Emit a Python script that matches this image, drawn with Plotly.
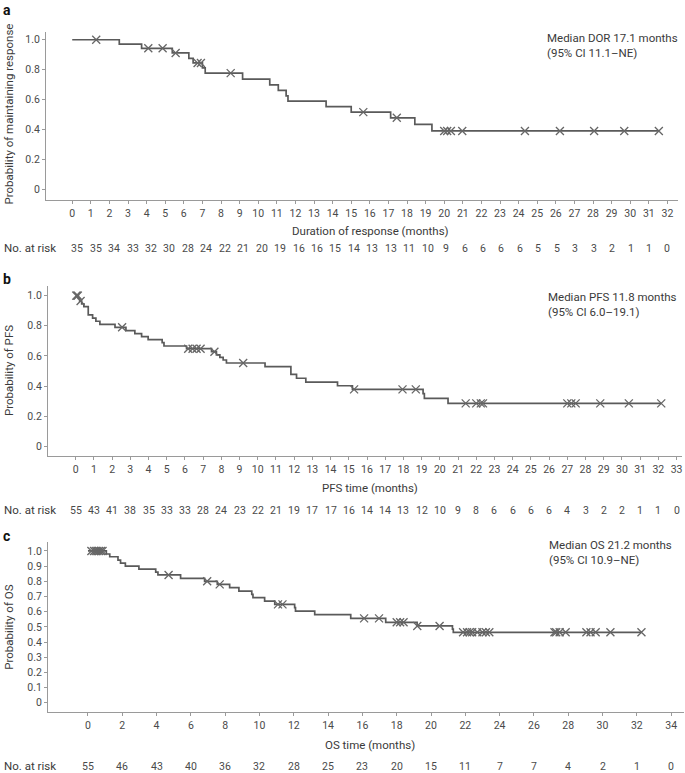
import plotly.graph_objects as go

W, H = 685, 773

# ---------------- data ----------------
# Panel a: duration of response
a_event_t = [2.53, 3.73, 5.38, 6.27, 6.5, 7.0, 7.15, 9.16, 10.62, 11.08, 11.5, 11.6, 13.65, 15.0, 17.12, 18.42, 19.34]
a_event_s = [0.971, 0.943, 0.912, 0.876, 0.845, 0.812, 0.777, 0.737, 0.698, 0.662, 0.625, 0.59, 0.553, 0.516, 0.478, 0.434, 0.39]
a_censor_t = [1.29, 4.09, 4.86, 5.56, 6.74, 6.92, 8.52, 15.65, 17.45, 20.0, 20.16, 20.36, 20.97, 24.34, 26.22, 28.06, 29.68, 31.54]
a_risk_t = list(range(0, 33))
a_risk_n = [35, 35, 34, 33, 32, 30, 28, 24, 22, 21, 20, 19, 16, 16, 15, 14, 13, 13, 11, 10, 9, 6, 6, 6, 6, 5, 5, 3, 3, 2, 1, 1, 0]
a_yticks = [0, 0.2, 0.4, 0.6, 0.8, 1.0]
a_yticklabels = ["0", "0.2", "0.4", "0.6", "0.8", "1.0"]

# Panel b: PFS
b_event_t = [0.15, 0.22, 0.33, 0.45, 0.69, 0.93, 1.11, 1.33, 2.16, 2.76, 3.25, 3.62, 3.98, 4.75, 4.85, 6.09, 7.46, 7.73, 7.92, 8.1, 8.28, 10.4, 11.82, 12.13, 12.64, 14.38, 15.2, 19.08, 19.15, 20.45]
b_event_s = [0.982, 0.964, 0.945, 0.927, 0.872, 0.851, 0.83, 0.81, 0.79, 0.768, 0.748, 0.728, 0.708, 0.688, 0.666, 0.648, 0.628, 0.607, 0.59, 0.573, 0.553, 0.529, 0.478, 0.452, 0.426, 0.402, 0.378, 0.35, 0.319, 0.285]
b_censor_t = [0.03, 0.08, 0.12, 0.27, 2.55, 6.18, 6.42, 6.64, 6.86, 7.62, 9.2, 15.29, 17.95, 18.68, 21.42, 22.0, 22.25, 22.37, 27.0, 27.22, 27.46, 28.81, 30.38, 32.16]
b_risk_t = list(range(0, 34))
b_risk_n = [55, 43, 41, 38, 35, 33, 33, 28, 24, 23, 22, 21, 19, 17, 17, 16, 14, 14, 13, 12, 10, 9, 8, 6, 6, 6, 6, 4, 3, 2, 2, 1, 1, 0]
b_yticks = [0, 0.2, 0.4, 0.6, 0.8, 1.0]
b_yticklabels = ["0", "0.2", "0.4", "0.6", "0.8", "1.0"]

# Panel c: OS
c_event_t = [1.07, 1.27, 1.75, 1.9, 2.18, 2.97, 3.95, 4.08, 5.4, 6.8, 7.54, 8.26, 8.8, 9.55, 9.62, 10.3, 10.89, 12.05, 12.1, 13.22, 15.32, 17.36, 19.19, 21.25, 21.3]
c_event_s = [0.98, 0.962, 0.94, 0.92, 0.9, 0.88, 0.86, 0.842, 0.82, 0.8, 0.78, 0.758, 0.736, 0.714, 0.692, 0.67, 0.648, 0.626, 0.604, 0.58, 0.556, 0.53, 0.506, 0.485, 0.464]
c_censor_t = [0.2, 0.35, 0.45, 0.55, 0.65, 0.75, 0.85, 4.7, 6.95, 7.68, 11.08, 11.34, 16.1, 16.97, 18.0, 18.2, 18.4, 19.2, 20.5, 21.87, 22.1, 22.25, 22.4, 22.7, 23.0, 23.2, 23.4, 27.2, 27.3, 27.5, 27.85, 29.06, 29.3, 29.6, 30.46, 32.27]
c_risk_t = list(range(0, 35, 2))
c_risk_n = [55, 46, 43, 40, 36, 32, 28, 25, 23, 20, 15, 11, 7, 7, 4, 2, 1, 0]
c_yticks = [0, 0.1, 0.2, 0.3, 0.4, 0.5, 0.6, 0.7, 0.8, 0.9, 1.0]
c_yticklabels = ["0", "0.1", "0.2", "0.3", "0.4", "0.5", "0.6", "0.7", "0.8", "0.9", "1.0"]

panels = [
    dict(label="a", ev_t=a_event_t, ev_s=a_event_s, cen=a_censor_t, risk_t=a_risk_t, risk_n=a_risk_n,
         yticks=a_yticks, yticklabels=a_yticklabels, xticks=list(range(0, 33)),
         ytitle="Probability of maintaining response", xtitle="Duration of response (months)",
         note="Median DOR 17.1 months<br>(95% CI 11.1–NE)"),
    dict(label="b", ev_t=b_event_t, ev_s=b_event_s, cen=b_censor_t, risk_t=b_risk_t, risk_n=b_risk_n,
         yticks=b_yticks, yticklabels=b_yticklabels, xticks=list(range(0, 34)),
         ytitle="Probability of PFS", xtitle="PFS time (months)",
         note="Median PFS 11.8 months<br>(95% CI 6.0–19.1)"),
    dict(label="c", ev_t=c_event_t, ev_s=c_event_s, cen=c_censor_t, risk_t=c_risk_t, risk_n=c_risk_n,
         yticks=c_yticks, yticklabels=c_yticklabels, xticks=list(range(0, 35, 2)),
         ytitle="Probability of OS", xtitle="OS time (months)",
         note="Median OS 21.2 months<br>(95% CI 10.9–NE)"),
]

# ---------------- layout geometry (pixels) ----------------
geo = [
    dict(x0=46, x1=678, ytop=31.7, ybot=200, xr=[-1.41, 32.57], yr=[-0.072, 1.054],
         lab_y=10, xt_y=231, risk_y=248, note_x=545, note_y=29, risk_shift=5),
    dict(x0=48, x1=682, ytop=286, ybot=456, xr=[-1.52, 33.3], yr=[-0.064, 1.064],
         lab_y=279, xt_y=488, risk_y=510, note_x=546, note_y=288, risk_shift=0),
    dict(x0=48, x1=684, ytop=541.7, ybot=712.3, xr=[-2.33, 34.75], yr=[-0.063, 1.061],
         lab_y=536, xt_y=745, risk_y=766, note_x=547, note_y=536, risk_shift=0),
]

def fx(p):
    return p / W

def fy(p):
    return 1 - p / H

FONT = "Roboto, Liberation Sans, Arial, sans-serif"
TXT = "#3a3a3a"
AX = "#9a9a9a"
LINE = "#5a5a5a"

fig = go.Figure()
annotations = []
layout = {}

def surv_at(t, ev_t, ev_s):
    s = 1.0
    for et, es in zip(ev_t, ev_s):
        if et <= t:
            s = es
    return s

for i, (p, g) in enumerate(zip(panels, geo)):
    n = "" if i == 0 else str(i + 1)
    xa, ya = "x" + n, "y" + n
    last = max(p["cen"] + p["ev_t"])
    xs = [0] + p["ev_t"] + [last]
    ys = [1.0] + p["ev_s"] + [p["ev_s"][-1]]
    fig.add_trace(go.Scatter(x=xs, y=ys, mode="lines", line=dict(shape="hv", color=LINE, width=1.7),
                             xaxis=xa, yaxis=ya, showlegend=False, hoverinfo="skip"))
    cy = [surv_at(t, p["ev_t"], p["ev_s"]) for t in p["cen"]]
    fig.add_trace(go.Scatter(x=p["cen"], y=cy, mode="markers",
                             marker=dict(symbol="x-thin", size=8, line=dict(color="#666666", width=1.3)),
                             xaxis=xa, yaxis=ya, showlegend=False, hoverinfo="skip"))
    axis_common = dict(showgrid=False, zeroline=False, showline=True, linecolor=AX, linewidth=1,
                       ticks="outside", ticklen=3, tickwidth=1, tickcolor=AX,
                       tickfont=dict(family=FONT, size=10.5, color="#4a4a4a"))
    layout["xaxis" + n] = dict(axis_common, domain=[fx(g["x0"]), fx(g["x1"])], range=g["xr"],
                               anchor=ya, tickvals=p["xticks"], ticktext=[str(v) for v in p["xticks"]])
    layout["yaxis" + n] = dict(axis_common, domain=[fy(g["ybot"]), fy(g["ytop"])], range=g["yr"],
                               anchor=xa, tickvals=p["yticks"], ticktext=p["yticklabels"])
    # panel label
    annotations.append(dict(text="<b>%s</b>" % p["label"], xref="paper", yref="paper", x=fx(1), y=fy(g["lab_y"]),
                            xanchor="left", yanchor="middle", showarrow=False,
                            font=dict(family=FONT, size=14, color="#111")))
    # y title (centred on the 0..1 span)
    y0px = g["ybot"] - (0 - g["yr"][0]) / (g["yr"][1] - g["yr"][0]) * (g["ybot"] - g["ytop"])
    y1px = g["ybot"] - (1 - g["yr"][0]) / (g["yr"][1] - g["yr"][0]) * (g["ybot"] - g["ytop"])
    annotations.append(dict(text=p["ytitle"], xref="paper", yref="paper", x=fx(9), y=fy((y0px + y1px) / 2),
                            xanchor="center", yanchor="middle", textangle=-90, showarrow=False,
                            font=dict(family=FONT, size=11.5, color=TXT)))
    # x title
    annotations.append(dict(text=p["xtitle"], xref="paper", yref="paper", x=fx(370), y=fy(g["xt_y"]),
                            xanchor="center", yanchor="middle", showarrow=False,
                            font=dict(family=FONT, size=11.5, color=TXT)))
    # note
    annotations.append(dict(text=p["note"], xref="paper", yref="paper", x=fx(g["note_x"]), y=fy(g["note_y"]),
                            xanchor="left", yanchor="top", align="left", showarrow=False,
                            font=dict(family=FONT, size=11.5, color=TXT)))
    # at risk
    annotations.append(dict(text="No. at risk", xref="paper", yref="paper", x=fx(2), y=fy(g["risk_y"]),
                            xanchor="left", yanchor="middle", showarrow=False,
                            font=dict(family=FONT, size=11.5, color=TXT)))
    tmax = max(p["risk_t"])
    for t, v in zip(p["risk_t"], p["risk_n"]):
        annotations.append(dict(text=str(v), xref=xa, yref="paper", x=t, y=fy(g["risk_y"]),
                                xanchor="center", yanchor="middle", showarrow=False,
                                xshift=g["risk_shift"] * (1 - t / tmax),
                                font=dict(family=FONT, size=10.5, color="#4a4a4a")))

fig.update_layout(width=W, height=H, margin=dict(l=0, r=0, t=0, b=0),
                  paper_bgcolor="white", plot_bgcolor="white", annotations=annotations, **layout)

fig.write_html("out.html", config={"displayModeBar": False},
               post_script="document.body.style.margin='0px';document.body.style.overflow='hidden';")
